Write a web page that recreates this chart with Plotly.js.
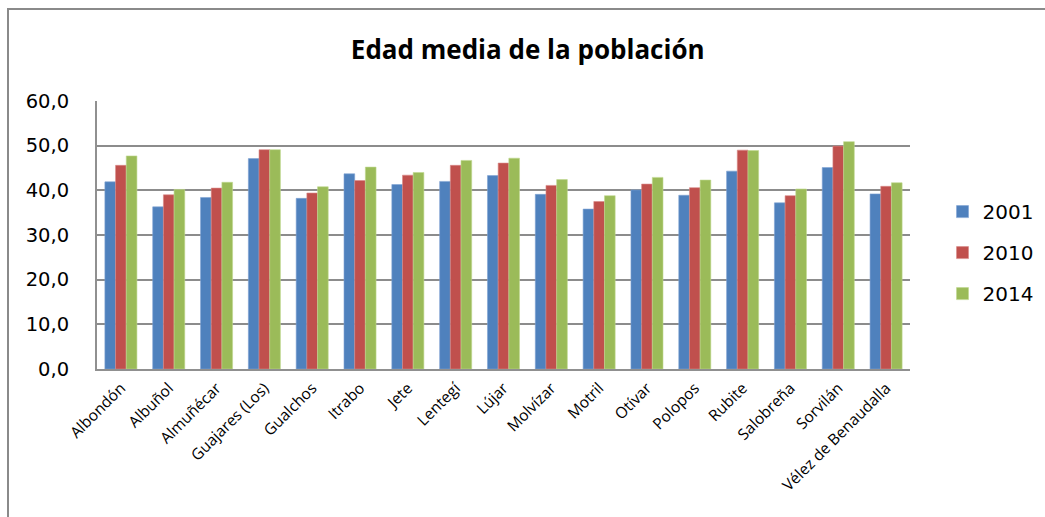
<!DOCTYPE html>
<html>
<head>
<meta charset="utf-8">
<script src="https://cdn.plot.ly/plotly-3.0.1.min.js"></script>
<style>
html,body{margin:0;padding:0;background:#fff;overflow:hidden;}
#frame{position:absolute;left:7px;top:8px;width:1060px;height:540px;border-left:2px solid #8a8a8a;border-top:2px solid #8a8a8a;}
#chart{position:absolute;left:0;top:0;width:1045px;height:517px;}
</style>
</head>
<body>
<div id="frame"></div>
<div id="chart"></div>
<script>
const categories = ["Albondón","Albuñol","Almuñécar","Guajares (Los)","Gualchos","Itrabo","Jete","Lentegí","Lújar","Molvízar","Motril","Otívar","Polopos","Rubite","Salobreña","Sorvilán","Vélez de Benaudalla"];
const y2001 = [41.9,36.3,38.4,47.1,38.2,43.7,41.3,42.0,43.3,39.1,35.8,40.1,38.9,44.3,37.2,45.1,39.2];
const y2010 = [45.6,39.0,40.5,49.1,39.4,42.2,43.4,45.6,46.1,41.1,37.5,41.4,40.6,49.0,38.8,49.9,40.9];
const y2014 = [47.7,40.2,41.8,49.1,40.8,45.2,44.0,46.7,47.2,42.4,38.8,42.9,42.3,48.9,40.3,50.9,41.7];
const seriesNames = ["2001","2010","2014"];
const colors = ["#4F81BD","#C0504D","#9BBB59"];
const edge = ["#7fa3d3","#d98a88","#bfd88f"];
const values = [y2001,y2010,y2014];

const traces = values.map((v,i)=>({
  type:'bar', x:categories, y:v, name:seriesNames[i], legendgroup:'g'+i,
  marker:{color:colors[i], line:{color:edge[i], width:0.6}}
}));

const layout = {
  width:1045, height:517,
  paper_bgcolor:'rgba(0,0,0,0)', plot_bgcolor:'rgba(0,0,0,0)',
  margin:{l:97,r:135,t:101,b:148,autoexpand:false},
  separators:',.',
  title:{text:'<b>Edad media de la población</b>', x:0.505, xanchor:'center', y:0.903, yanchor:'middle',
         font:{family:'"Open Sans", sans-serif', size:26, color:'#000'}},
  barmode:'group', bargap:0.33, bargroupgap:0,
  xaxis:{tickangle:-45, tickfont:{family:'"Open Sans", sans-serif', size:15.5, color:'#000'},
         showline:true, linecolor:'#909090', linewidth:2, ticks:'outside', ticklen:2, tickcolor:'rgba(0,0,0,0)', showgrid:false},
  yaxis:{range:[0,60], dtick:10, tickformat:'.1f', tickfont:{family:'"DejaVu Sans", sans-serif', size:19.5, color:'#000'},
         showgrid:true, gridcolor:'#8c8c8c', gridwidth:2, showline:true, linecolor:'#909090', linewidth:2,
         ticks:'outside', ticklen:22, tickcolor:'rgba(0,0,0,0)', zeroline:false},
  showlegend:true,
  legend:{x:1.04, xanchor:'left', y:0.66, yanchor:'top', traceorder:'grouped', tracegroupgap:12,
          font:{family:'"DejaVu Sans", sans-serif', size:20, color:'#000'}, bgcolor:'rgba(0,0,0,0)'}
};
Plotly.newPlot('chart', traces, layout, {displayModeBar:false, staticPlot:true});
</script>
</body>
</html>
